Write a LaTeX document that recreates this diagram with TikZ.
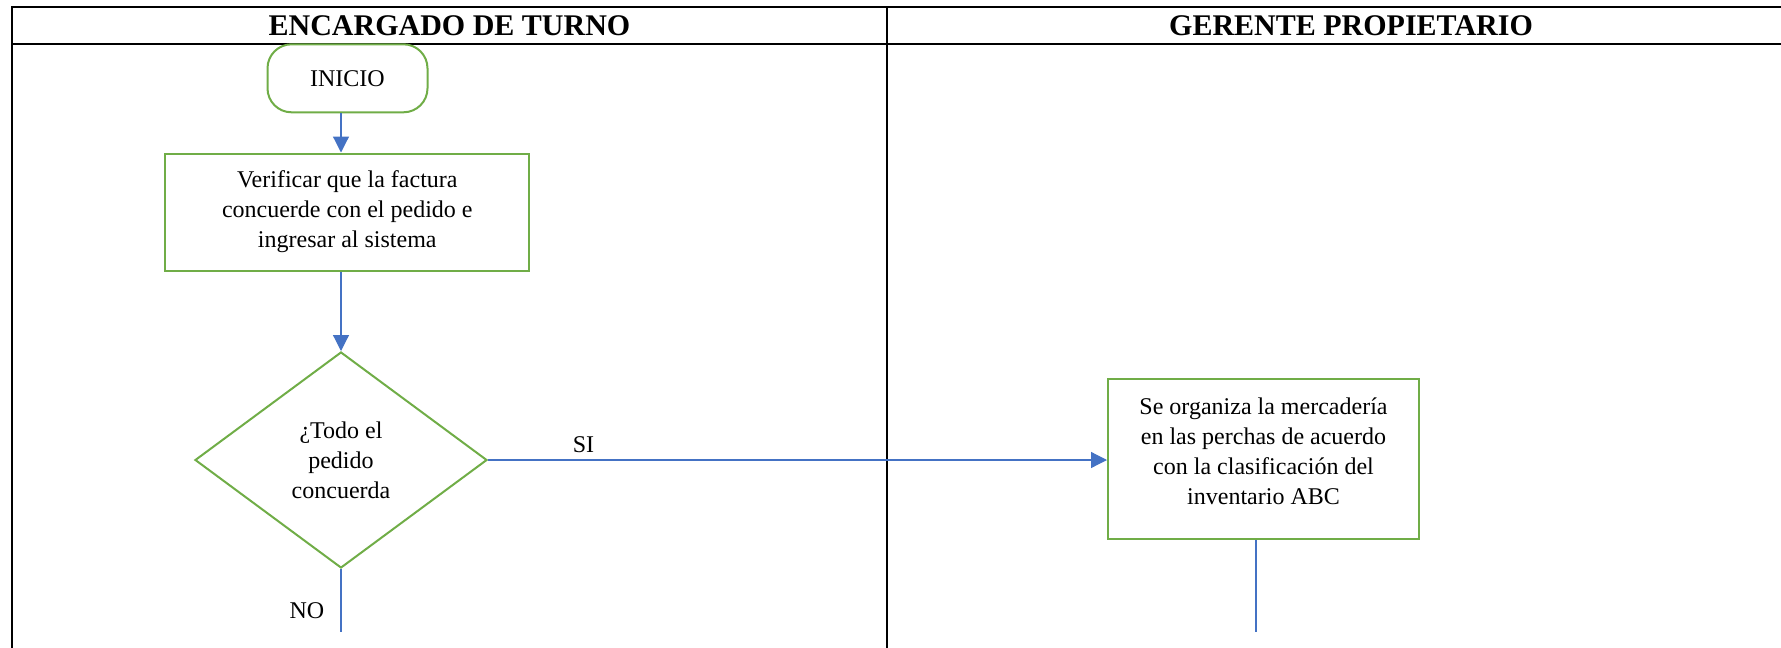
\documentclass[tikz,border=0pt]{standalone}
\usepackage{fontspec}
\setmainfont{Liberation Serif}
\usetikzlibrary{shapes.geometric,arrows.meta}

\definecolor{stepgreen}{HTML}{70AD47}
\definecolor{flowblue}{HTML}{4472C4}

\begin{document}
\begin{tikzpicture}[
  x=1pt, y=-1pt,
  frame/.style={line width=1.8pt, black},
  lanehead/.style={font=\fontsize{30}{36}\selectfont\bfseries, inner sep=0pt},
  bodytext/.style={font=\fontsize{24}{30}\selectfont, align=center},
  startbox/.style={draw=stepgreen, line width=2pt, rectangle, rounded corners=24pt,
    minimum width=160pt, minimum height=68pt, bodytext},
  stepbox/.style={draw=stepgreen, line width=2pt, rectangle, bodytext, inner sep=0pt},
  decision/.style={draw=stepgreen, line width=2pt, diamond, aspect=1.35, inner sep=0pt,
    minimum width=292pt, minimum height=216pt, bodytext},
  flow/.style={draw=flowblue, line width=1.2pt},
  flowarrow/.style={flow, -{Triangle[length=16pt,width=16pt]}, color=flowblue},
  branch/.style={font=\fontsize{24}{30}\selectfont, inner sep=0pt}
]
\useasboundingbox (0,0) rectangle (1781,648);

% swimlane table
\draw[frame] (11.8,648) -- (11.8,7.3) -- (1782,7.3);
\draw[frame] (11.8,43.7) -- (1782,43.7);
\draw[frame] (887,7.3) -- (887,648);

\node[lanehead] (laneA) at (449.5,26) {ENCARGADO DE TURNO};
\node[lanehead] (laneB) at (1351,26) {GERENTE PROPIETARIO};

% flow nodes
\node[startbox] (inicio) at (347.5,78.3) {\raisebox{-3pt}{INICIO}};
\node[stepbox, minimum width=364pt, minimum height=117pt] (verif) at (347.3,212)
  {Verificar que la factura\\concuerde con el pedido e\\ingresar al sistema};
\node[decision] (dec) at (341,460) {¿Todo el\\pedido\\concuerda};
\node[stepbox, minimum width=311pt, minimum height=160pt] (org) at (1263.5,458.8) {};
\node[bodytext, inner sep=0pt] (orgtxt) at (1263.5,451)
  {Se organiza la mercadería\\en las perchas de acuerdo\\con la clasificación del\\inventario ABC};

\coordinate (noend) at (341,632);
\coordinate (orgend) at (1256,632);

% connectors
\draw[flowarrow] (inicio.south -| dec.north) -- (verif.north -| dec.north);
\draw[flowarrow] (verif.south -| dec.north) -- (dec.north);
\draw[flowarrow] (dec.east) -- (dec.east -| org.west);
\draw[flow] (dec.south) -- (noend);
\draw[flow] (orgend |- org.south) -- (orgend);

% branch labels
\node[branch] (si) at (583.5,445) {SI};
\node[branch] (no) at (307,611) {NO};
\end{tikzpicture}
\end{document}
